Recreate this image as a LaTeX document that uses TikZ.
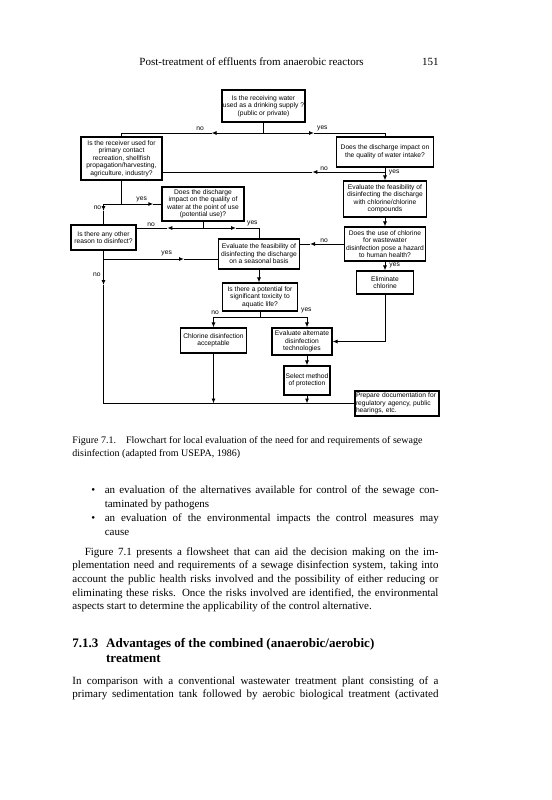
\documentclass[tikz,border=0pt]{standalone}
\usepackage{fontspec}
\setmainfont{Liberation Serif}
\newfontfamily\arialf{Liberation Sans}
\usetikzlibrary{arrows.meta}
\newcommand\fcfont{\arialf\fontsize{6.7bp}{7.5bp}\selectfont}
\newcommand\bodyfont{\fontsize{11bp}{13.7bp}\selectfont}
\newcommand\capfont{\fontsize{10bp}{12.5bp}\selectfont}
\newcommand\headfont{\bfseries\fontsize{13bp}{15bp}\selectfont}
\begin{document}
\begin{tikzpicture}[x=1bp,y=-1bp,line width=0.9bp,
  >={Latex[length=5bp,width=4bp]},
  box/.style={draw,line width=1.1bp,inner sep=0pt,align=center,font=\fcfont},
  lbl/.style={anchor=base west,inner sep=0pt,font=\fcfont},
  txt/.style={anchor=base west,inner sep=0pt,font=\bodyfont},
  captxt/.style={anchor=base west,inner sep=0pt,font=\capfont},
  hd/.style={anchor=base west,inner sep=0pt,font=\headfont}]
\useasboundingbox[fill=white] (0,0) rectangle (552,800);

% header
\node[txt] (hdr) at (139,66) {Post-treatment of effluents from anaerobic reactors};
\node[txt] (pg) at (421.7,66) {151};

% boxes
\node[box,minimum width=83bp,minimum height=32bp] (B1) at (263.5,106) {Is the receiving water\\used as a drinking supply ?\\(public or private)};
\node[box,minimum width=81bp,minimum height=43bp] (B2) at (121.5,158.5) {Is the receiver used for\\primary contact\\recreation, shellfish\\propagation/harvesting,\\agriculture, industry?};
\node[box,minimum width=97bp,minimum height=30bp] (B3) at (385,152) {Does the discharge impact on\\the quality of water intake?};
\node[box,minimum width=83bp,minimum height=36bp] (B4) at (385,199) {Evaluate the feasibility of\\disinfecting the discharge\\with chlorine/chlorine\\compounds};
\node[box,minimum width=81bp,minimum height=34bp] (B5) at (385,244) {Does the use of chlorine\\for wastewater\\disinfection pose a hazard\\to human health?};
\node[box,minimum width=81bp,minimum height=30bp] (B6) at (259,254) {Evaluate the feasibility of\\disinfecting the discharge\\on a seasonal basis};
\node[box,minimum width=57bp,minimum height=23bp] (B7) at (385,282.5) {Eliminate\\chlorine};
\node[box,minimum width=82bp,minimum height=34bp] (B8) at (203,204) {Does the discharge\\impact on the quality of\\water at the point of use\\(potential use)?};
\node[box,minimum width=65bp,minimum height=25bp] (B9) at (103.5,237.5) {Is there any other\\reason to disinfect?};
\node[box,minimum width=75bp,minimum height=28bp] (B10) at (260,297) {Is there a potential for\\significant toxicity to\\aquatic life?};
\node[box,minimum width=66bp,minimum height=25bp] (B11) at (213.5,340.5) {Chlorine disinfection\\acceptable};
\node[box,minimum width=60bp,minimum height=27bp] (B12) at (302,341.5) {Evaluate alternate\\disinfection\\technologies};
\node[box,minimum width=46bp,minimum height=29bp] (B13) at (307,380.5) {Select method\\of protection};
\node[box,minimum width=84bp,minimum height=25bp,align=left,text width=82bp] (B14) at (397,403.5) {Prepare documentation for\\regulatory agency, public\\hearings, etc.};

% junctions
\coordinate (J1) at (B1.south |- 0,133);
\coordinate (J2) at (B4.north |- 0,172);
\coordinate (J3) at (B2.south |- 0,204);
\coordinate (J4) at (B8.south |- 0,228);
\coordinate (J5) at (B9.south |- 0,259);
\coordinate (J6) at (B10.south |- 0,317);
% mid-line arrow tips
\coordinate (A1) at (211.5,133);
\coordinate (A2) at (314,133);
\coordinate (A3) at (312.3,172);
\coordinate (A4) at (310,244);
\coordinate (A5) at (103.5,211);
\coordinate (A6) at (153.3,204);
\coordinate (A7) at (167.3,228);
\coordinate (A8) at (236,228);
\coordinate (A9) at (184,259);
\coordinate (A10) at (103.5,285);

% connectors
\draw (B1.south) -- (J1);
\draw[->] (J1) -- (A1); \draw (A1) -| (B2.north);
\draw[->] (J1) -- (A2); \draw (A2) -| (B3.north);
\draw[->] (B3.south) -- (B4.north);
\draw[->] (J2) -- (A3); \draw (A3) -- (A3 -| B2.east);
\draw[->] (B4.south) -- (B5.north);
\draw[->] (B5.west) -- (A4); \draw (A4) -- (A4 -| B6.east);
\draw[->] (B5.south) -- (B7.north);
\draw[->] (B7.south) |- (B12.east);
\draw (B2.south) -- (J3);
\draw[->] (J3) -| (A5); \draw (A5) -- (B9.north);
\draw[->] (J3) -- (A6); \draw (A6) -- (A6 -| B8.west);
\draw (B8.south) -- (J4);
\draw[->] (J4) -- (A7); \draw (A7) -- (A7 -| B9.east);
\draw[->] (J4) -- (A8); \draw (A8) -| (B6.north);
\draw (B9.south) -- (J5);
\draw[->] (J5) -- (A9); \draw (A9) -- (A9 -| B6.west);
\draw[->] (J5) -- (A10); \draw (A10) |- (B14.west);
\draw[->] (B6.south) -- (B6.south |- B10.north);
\draw (B10.south) -- (J6);
\draw[->] (J6) -| (B11.north);
\draw[->] (J6) -| (B13.north |- B12.north);
\draw[->] (B12.south -| B13.north) -- (B13.north);
\draw[->] (B13.south) -- (B13.south |- B14.west);
\draw[->] (B11.south) -- (B11.south |- B14.west);

% labels
\node[lbl] (l1) at (196,130) {no};
\node[lbl] (l2) at (316.7,129.3) {yes};
\node[lbl] (l3) at (320,170) {no};
\node[lbl] (l4) at (388.5,173.5) {yes};
\node[lbl] (l5) at (136,200.7) {yes};
\node[lbl] (l6) at (93.3,209.3) {no};
\node[lbl] (l7) at (147,226) {no};
\node[lbl] (l8) at (246.7,224) {yes};
\node[lbl] (l9) at (161,254) {yes};
\node[lbl] (l10) at (92.7,276.7) {no};
\node[lbl] (l11) at (320,242.3) {no};
\node[lbl] (l12) at (389,266) {yes};
\node[lbl] (l13) at (211,314.3) {no};
\node[lbl] (l14) at (300.7,311) {yes};

% caption
\node[captxt] (c1) at (72,443.5) {Figure 7.1.};
\node[captxt] (c2) at (125.7,443.5) {Flowchart for local evaluation of the need for and requirements of sewage};
\node[captxt] (c3) at (72,456.5) {disinfection (adapted from USEPA, 1986)};

% bullets
\node[txt] (b1) at (91,493) {\textbullet};
\node[txt] (t1) at (104.3,493) {\makebox[334bp][s]{an evaluation of the alternatives available for control of the sewage con-}};
\node[txt] (t2) at (104.3,507) {taminated by pathogens};
\node[txt] (b2) at (91,521.5) {\textbullet};
\node[txt] (t3) at (104.3,521.5) {\makebox[334bp][s]{an evaluation of the environmental impacts the control measures may}};
\node[txt] (t4) at (104.3,535.5) {cause};

% paragraph
\node[txt] (p1) at (84.3,555) {\makebox[353.7bp][s]{Figure 7.1 presents a flowsheet that can aid the decision making on the im-}};
\node[txt] (p2) at (72,568.7) {\makebox[366bp][s]{plementation need and requirements of a sewage disinfection system, taking into}};
\node[txt] (p3) at (72,582.4) {\makebox[366bp][s]{account the public health risks involved and the possibility of either reducing or}};
\node[txt] (p4) at (72,596.1) {\makebox[366bp][s]{eliminating these risks. Once the risks involved are identified, the environmental}};
\node[txt] (p5) at (72,609.8) {aspects start to determine the applicability of the control alternative.};

% heading
\node[hd] (h1) at (72,647.3) {7.1.3};
\node[hd] (h2) at (105.7,647.3) {Advantages of the combined (anaerobic/aerobic)};
\node[hd] (h3) at (105.7,662.3) {treatment};

\node[txt] (q1) at (72,684) {\makebox[366bp][s]{In comparison with a conventional wastewater treatment plant consisting of a}};
\node[txt] (q2) at (72,697.5) {\makebox[366bp][s]{primary sedimentation tank followed by aerobic biological treatment (activated}};
\end{tikzpicture}
\end{document}
